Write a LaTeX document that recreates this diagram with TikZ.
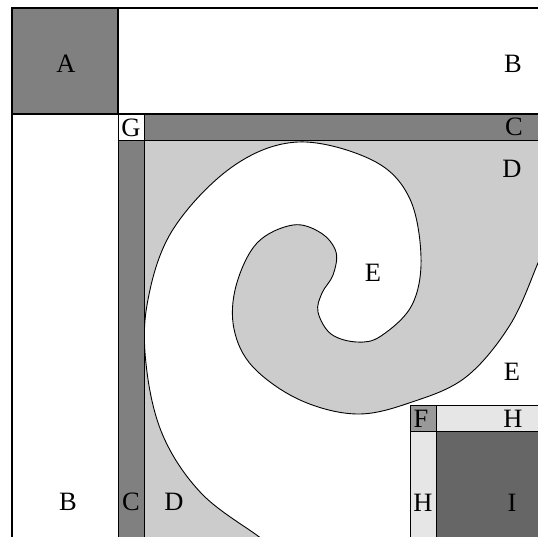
\documentclass[tikz,border=0pt]{standalone}
\usepackage{fontspec}
\setmainfont{Liberation Serif}
\definecolor{cgray}{HTML}{808080}
\definecolor{dgray}{HTML}{CCCCCC}
\definecolor{fgray}{HTML}{999999}
\definecolor{hgray}{HTML}{E6E6E6}
\definecolor{igray}{HTML}{666666}
\tikzset{
  frameline/.style={draw=black, line width=1.4pt},
  box/.style={draw=black, line width=0.9pt},
  lbl/.style={font=\fontsize{26.5}{27}\selectfont, inner sep=0pt},
  spiralline/.style={draw=black, line width=0.9pt},
}
\begin{document}
\begin{tikzpicture}[x=1pt,y=-1pt]
\useasboundingbox (0,0) rectangle (538,536);
\clip (0,0) rectangle (538,536);
% D square with the E spiral
\begin{scope}
\clip (144,140) rectangle (560,560);
\fill[dgray] (144,140) rectangle (560,560);
\filldraw[fill=white, spiralline] plot[smooth, tension=0.6] coordinates {
 (280,552) (258,536) (202,494) (164,438) (147,372) (147,305) (172,231)
 (232,167) (298,142) (372,160) (409,197) (421,257) (412,305) (381,336)
 (357,342) (331,334) (318,312) (322,293) (333,275) (336,252) (321,233)
 (293,225) (257,243) (236,286) (234,329) (253,367) (300,400) (357,414)
 (412,402) (466,377) (510,325) (538,263) (548,238)
} -- (570,238) -- (570,570) -- (280,570) -- cycle;
\end{scope}
% F, H, I squares
\filldraw[fill=fgray, box] (410,405) rectangle (436,431);
\filldraw[fill=hgray, box] (436,405) rectangle (560,431);
\filldraw[fill=hgray, box] (410,431) rectangle (436,560);
\filldraw[fill=igray, box] (436,431) rectangle (560,560);
% C bars and G
\filldraw[fill=cgray, box] (144,114) rectangle (560,140);
\filldraw[fill=cgray, box] (118,140) rectangle (144,560);
\filldraw[fill=white, box] (118,114) rectangle (144,140);
% A square and frame
\filldraw[fill=cgray, frameline] (12,8) rectangle (118,114);
\draw[frameline] (12,8) -- (560,8);
\draw[frameline] (12,8) -- (12,560);
\draw[frameline] (12,114) -- (560,114);
% labels
\node[lbl] (lA) at (66,64) {A};
\node[lbl] (lB1) at (513,64) {B};
\node[lbl] (lB2) at (68,502) {B};
\node[lbl] (lC1) at (514,127) {C};
\node[lbl] (lC2) at (131,502) {C};
\node[lbl] (lG) at (131,128) {G};
\node[lbl] (lD1) at (512,169) {D};
\node[lbl] (lD2) at (174,502) {D};
\node[lbl] (lE1) at (373,273) {E};
\node[lbl] (lE2) at (512,372) {E};
\node[lbl] (lF) at (421,419) {F};
\node[lbl] (lH1) at (513,419) {H};
\node[lbl] (lH2) at (423,503) {H};
\node[lbl] (lI) at (512,503) {I};
\end{tikzpicture}
\end{document}
